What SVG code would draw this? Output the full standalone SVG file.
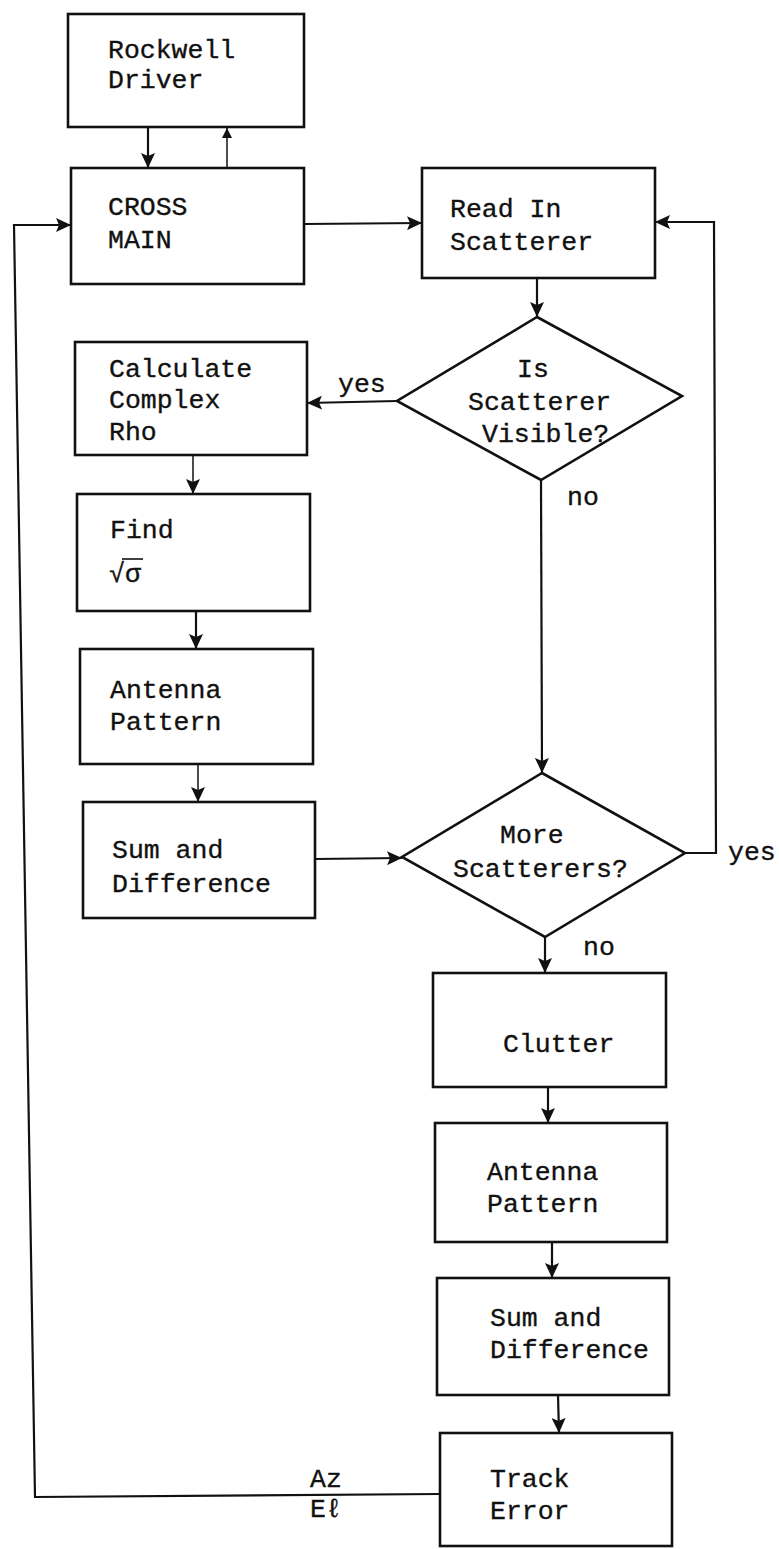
<svg xmlns="http://www.w3.org/2000/svg" width="779" height="1549" viewBox="0 0 779 1549">
<style>
.box{fill:none;stroke:#111;stroke-width:2.6}
.dia{fill:none;stroke:#111;stroke-width:2.6;stroke-linejoin:miter}
.ln{fill:none;stroke:#111;stroke-width:2.2}
.thin{fill:none;stroke:#111;stroke-width:1.5}
text{font-family:"Liberation Mono","DejaVu Sans Mono",monospace;font-size:26.5px;fill:#111;stroke:#111;stroke-width:0.35}
</style>
<defs>
<marker id="ah" viewBox="0 0 15 14" refX="15" refY="7" markerWidth="15" markerHeight="14" orient="auto" markerUnits="userSpaceOnUse"><path d="M0,0 L15,7 L0,14 L3,7 z" fill="#111"/></marker>
<marker id="ahs" viewBox="0 0 10 10" refX="10" refY="5" markerWidth="10" markerHeight="10" orient="auto" markerUnits="userSpaceOnUse"><path d="M0,0 L10,5 L0,10 z" fill="#111"/></marker>
</defs>
<rect width="779" height="1549" fill="#fff"/>

<g id="connectors">
<line class="ln" x1="148" y1="127" x2="148" y2="168" marker-end="url(#ah)"/>
<line class="thin" x1="227" y1="168" x2="227" y2="128" marker-end="url(#ahs)"/>
<line class="ln" x1="304" y1="224" x2="422" y2="223" marker-end="url(#ah)"/>
<line class="ln" x1="537" y1="278" x2="537" y2="317" marker-end="url(#ah)"/>
<line class="ln" x1="397" y1="401" x2="307" y2="403" marker-end="url(#ah)"/>
<line class="thin" x1="193" y1="456" x2="193" y2="494" marker-end="url(#ah)"/>
<line class="ln" x1="196" y1="611" x2="196" y2="649" marker-end="url(#ah)"/>
<line class="thin" x1="198" y1="764" x2="198" y2="802" marker-end="url(#ah)"/>
<line class="ln" x1="541" y1="480" x2="542" y2="773" marker-end="url(#ah)"/>
<line class="ln" x1="315" y1="859" x2="402" y2="858" marker-end="url(#ah)"/>
<polyline class="ln" points="685,853 716,853 714,222 655,222" marker-end="url(#ah)"/>
<line class="ln" x1="545" y1="937" x2="545" y2="973" marker-end="url(#ah)"/>
<line class="ln" x1="548" y1="1087" x2="548" y2="1123" marker-end="url(#ah)"/>
<line class="ln" x1="552" y1="1242" x2="552" y2="1278" marker-end="url(#ah)"/>
<line class="ln" x1="558" y1="1395" x2="559" y2="1433" marker-end="url(#ah)"/>
<polyline class="ln" points="440,1494 35,1497 14,225 71,225" marker-end="url(#ah)"/>
<text x="310" y="1487">Az</text>
<text x="310" y="1517">Eℓ</text>
<text x="338" y="392">yes</text>
<text x="567" y="505">no</text>
<text x="728" y="860">yes</text>
<text x="583" y="955">no</text>
</g>

<g id="rockwell">
<rect class="box" x="68" y="14" width="236" height="113"/>
<text x="108" y="58">Rockwell</text>
<text x="108" y="88">Driver</text>
</g>
<g id="cross">
<rect class="box" x="71" y="168" width="233" height="116"/>
<text x="108" y="215">CROSS</text>
<text x="108" y="248">MAIN</text>
</g>
<g id="readin">
<rect class="box" x="422" y="168" width="233" height="110"/>
<text x="450" y="217">Read In</text>
<text x="450" y="250">Scatterer</text>
</g>
<g id="visible">
<polygon class="dia" points="537,317 682,396 541,480 397,401"/>
<text x="517" y="377">Is</text>
<text x="468" y="410">Scatterer</text>
<text x="482" y="442">Visible?</text>
</g>
<g id="calc">
<rect class="box" x="75" y="342" width="232" height="113"/>
<text x="109" y="377">Calculate</text>
<text x="109" y="408">Complex</text>
<text x="109" y="440">Rho</text>
</g>
<g id="find">
<rect class="box" x="77" y="494" width="233" height="117"/>
<text x="110" y="538">Find</text>
<text x="109" y="582">√σ</text>
<line x1="122" y1="559" x2="143" y2="559" stroke="#111" stroke-width="1.6"/>
</g>
<g id="antenna1">
<rect class="box" x="80" y="649" width="233" height="115"/>
<text x="110" y="698">Antenna</text>
<text x="110" y="730">Pattern</text>
</g>
<g id="sumdiff1">
<rect class="box" x="83" y="802" width="232" height="116"/>
<text x="112" y="858">Sum and</text>
<text x="112" y="892">Difference</text>
</g>
<g id="more">
<polygon class="dia" points="542,773 685,853 545,937 402,857"/>
<text x="500" y="843">More</text>
<text x="453" y="877">Scatterers?</text>
</g>
<g id="clutter">
<rect class="box" x="433" y="973" width="233" height="114"/>
<text x="503" y="1052">Clutter</text>
</g>
<g id="antenna2">
<rect class="box" x="435" y="1123" width="232" height="119"/>
<text x="487" y="1180">Antenna</text>
<text x="487" y="1212">Pattern</text>
</g>
<g id="sumdiff2">
<rect class="box" x="437" y="1278" width="232" height="117"/>
<text x="490" y="1326">Sum and</text>
<text x="490" y="1358">Difference</text>
</g>
<g id="track">
<rect class="box" x="440" y="1433" width="232" height="113"/>
<text x="490" y="1487">Track</text>
<text x="490" y="1519">Error</text>
</g>
</svg>
